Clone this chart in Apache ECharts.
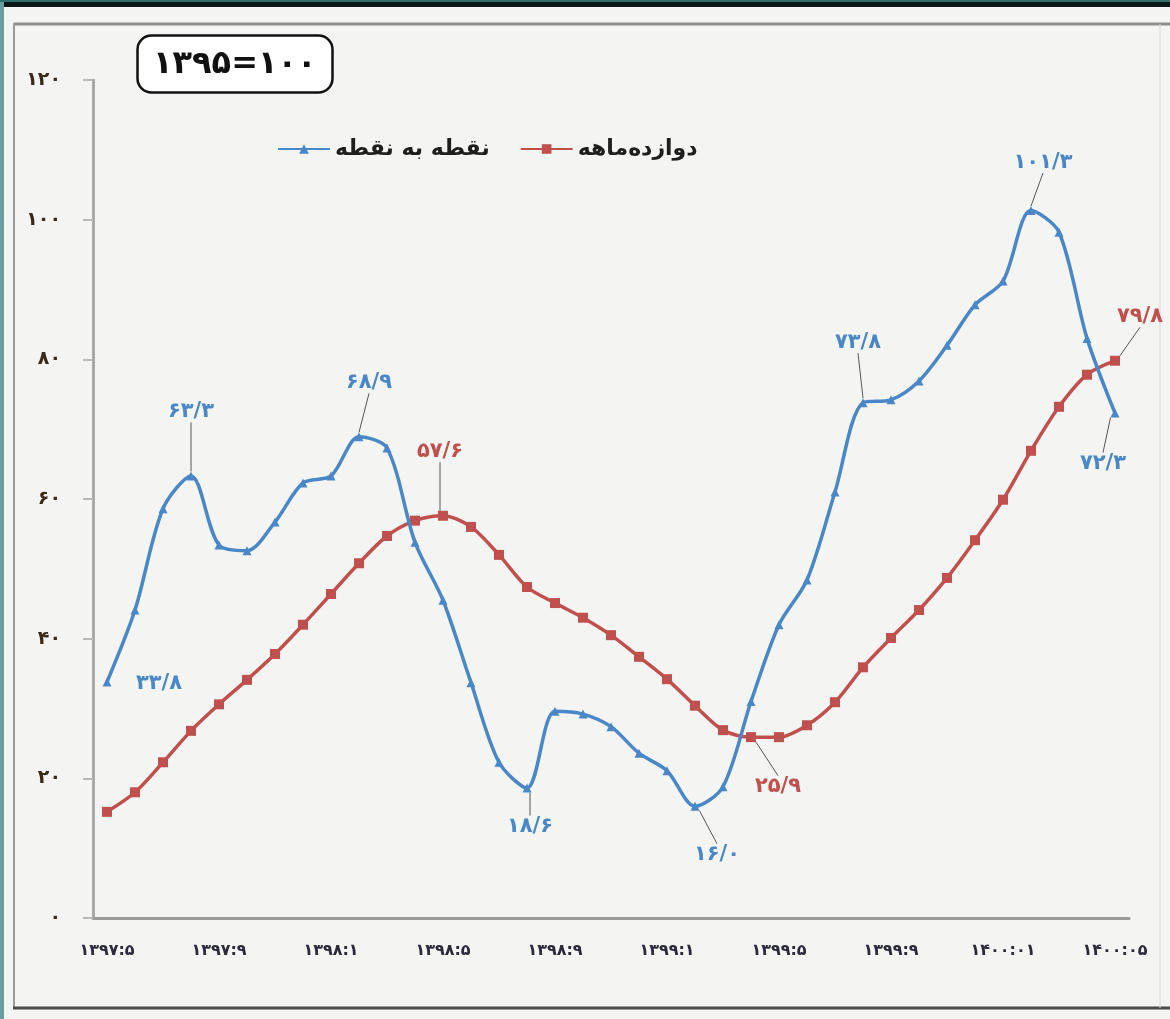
<!DOCTYPE html>
<html>
<head>
<meta charset="utf-8">
<script src="https://cdn.jsdelivr.net/npm/echarts@6/dist/echarts.min.js"></script>
<style>
  html, body { margin: 0; padding: 0; background: #f4f5f3; }
  #chart { width: 1170px; height: 1019px; }
</style>
</head>
<body>
<div id="chart"></div>
<script>
// months 1397:5 .. 1400:5
const months = [
  '1397:5', '1397:6', '1397:7', '1397:8', '1397:9', '1397:10', '1397:11', '1397:12',
  '1398:1', '1398:2', '1398:3', '1398:4', '1398:5', '1398:6', '1398:7', '1398:8',
  '1398:9', '1398:10', '1398:11', '1398:12', '1399:1', '1399:2', '1399:3', '1399:4',
  '1399:5', '1399:6', '1399:7', '1399:8', '1399:9', '1399:10', '1399:11', '1399:12',
  '1400:01', '1400:02', '1400:03', '1400:04', '1400:05'
]

// نقطه به نقطه
const pointToPoint = [
  33.8, 44.1, 58.6, 63.3, 53.4, 52.6, 56.7, 62.3, 63.3, 68.9, 67.3, 53.8,
  45.5, 33.7, 22.3, 18.6, 29.6, 29.2, 27.4, 23.6, 21.1, 16.0, 18.8, 31.0,
  42.0, 48.4, 61.0, 73.8, 74.2, 76.9, 82.0, 87.8, 91.2, 101.3, 98.2, 83.0, 72.3
]

// دوازده‌ماهه
const twelveMonth = [
  15.2, 18.0, 22.3, 26.8, 30.6, 34.1, 37.8, 42.0, 46.4, 50.8, 54.7, 56.9,
  57.6, 56.0, 52.0, 47.4, 45.1, 43.0, 40.5, 37.4, 34.2, 30.4, 26.9, 25.9,
  25.9, 27.6, 30.9, 35.9, 40.1, 44.1, 48.7, 54.1, 59.9, 66.9, 73.2, 77.8, 79.8
]

const yTicks = [0, 20, 40, 60, 80, 100, 120]

// annotated points: index -> label shift [dx, dy], leader line or not
const blueNotes = { 0: [52, 2, false], 3: [0, -64, true], 9: [10, -54, true], 15: [3, 38, true],
  21: [22, 48, true], 27: [-5, -60, true], 33: [12, -48, true], 36: [-12, 50, true] }
const redNotes = { 12: [-3, -64, true], 23: [27, 49, true], 36: [25, -44, true] }

const BLUE = '#4a87c6'
const RED = '#c0504d'
const FA = 'DejaVu Sans'

const toFa = s => String(s).replace(/[0-9]/g, d => '۰۱۲۳۴۵۶۷۸۹'[d]).replace('.', '/')

const fmtVal = v => toFa(v.toFixed(1))

const buildData = (values, notes, color) => values.map((v, i) => {
  if (!notes[i]) return v
  return {
    value: v,
    label: {
      show: true,
      position: 'inside',
      formatter: p => fmtVal(p.value),
      color: color,
      fontFamily: FA,
      fontWeight: 'bold',
      fontSize: 21
    },
    labelLine: { show: notes[i][2] }
  }
})

const layoutFor = notes => params => {
  const n = notes[params.dataIndex]
  if (!n) return {}
  return { dx: n[0], dy: n[1] }
}

const chart = echarts.init(document.getElementById('chart'))

const option = {
  backgroundColor: '#f4f5f3',
  animation: false,
  textStyle: { fontFamily: FA },
  graphic: [
    { type: 'rect', shape: { x: 0, y: 0, width: 1170, height: 7 }, style: { fill: '#0c1818' }, z: 100 },
    { type: 'rect', shape: { x: 0, y: 0, width: 1170, height: 2 }, style: { fill: '#2e6e6e' }, z: 101 },
    { type: 'rect', shape: { x: 0, y: 0, width: 4, height: 1019 }, style: { fill: '#6a9e9e' }, z: 100 },
    { type: 'line', shape: { x1: 14, y1: 24, x2: 1170, y2: 24 }, style: { stroke: '#8c8c8c', lineWidth: 3 } },
    { type: 'line', shape: { x1: 14, y1: 23, x2: 14, y2: 1008 }, style: { stroke: '#9a9a9a', lineWidth: 2 } },
    { type: 'line', shape: { x1: 13, y1: 1008, x2: 1170, y2: 1008 }, style: { stroke: '#4a4a4a', lineWidth: 3 } },
    { type: 'line', shape: { x1: 1160, y1: 24, x2: 1160, y2: 1008 }, style: { stroke: '#d8dad8', lineWidth: 1 } }
  ],
  title: {
    text: toFa('1395=100'),
    left: 137,
    top: 35,
    padding: [14, 16, 12, 16],
    borderColor: '#111',
    borderWidth: 2.5,
    borderRadius: 14,
    backgroundColor: '#ffffff',
    textStyle: {
      fontFamily: FA,
      fontWeight: 'bold',
      fontSize: 32,
      color: '#111'
    }
  },
  legend: {
    left: 272,
    top: 133,
    itemGap: 30,
    itemWidth: 52,
    itemHeight: 12,
    textStyle: { fontFamily: FA, fontWeight: 'bold', fontSize: 22, color: '#1e1e1e' },
    data: ['نقطه به نقطه', 'دوازده‌ماهه']
  },
  grid: {
    left: 93,
    right: 41,
    top: 80,
    bottom: 101,
    containLabel: false
  },
  xAxis: {
    type: 'category',
    data: months,
    boundaryGap: true,
    axisLine: { lineStyle: { color: '#9a9a9a', width: 3 } },
    axisTick: { show: false },
    axisLabel: {
      interval: 3,
      margin: 25,
      color: '#2a2a3a',
      fontFamily: FA,
      fontWeight: 'bold',
      fontSize: 16,
      formatter: v => toFa(v)
    },
    splitLine: { show: false }
  },
  yAxis: {
    type: 'value',
    min: yTicks[0],
    max: yTicks[yTicks.length - 1],
    interval: 20,
    axisLine: { show: true, lineStyle: { color: '#a8a8a8', width: 3 } },
    axisTick: { show: true, length: 10, lineStyle: { color: '#b8b8b8', width: 2 } },
    axisLabel: {
      margin: 32,
      color: '#3a2a1a',
      fontFamily: FA,
      fontWeight: 'bold',
      fontSize: 19,
      formatter: v => toFa(v)
    },
    splitLine: { show: false }
  },
  series: [
    {
      name: 'نقطه به نقطه',
      type: 'line',
      data: buildData(pointToPoint, blueNotes, BLUE),
      smooth: 0.3,
      symbol: 'triangle',
      symbolSize: 9,
      itemStyle: { color: BLUE },
      lineStyle: { color: BLUE, width: 3.5 },
      labelLine: { show: false, lineStyle: { color: '#555', width: 1 } },
      labelLayout: layoutFor(blueNotes),
      z: 3
    },
    {
      name: 'دوازده‌ماهه',
      type: 'line',
      data: buildData(twelveMonth, redNotes, RED),
      smooth: 0.3,
      symbol: 'rect',
      symbolSize: 10,
      itemStyle: { color: RED },
      lineStyle: { color: RED, width: 3.5 },
      labelLine: { show: false, lineStyle: { color: '#555', width: 1 } },
      labelLayout: layoutFor(redNotes),
      z: 2
    }
  ]
}

chart.setOption(option)
</script>
</body>
</html>
